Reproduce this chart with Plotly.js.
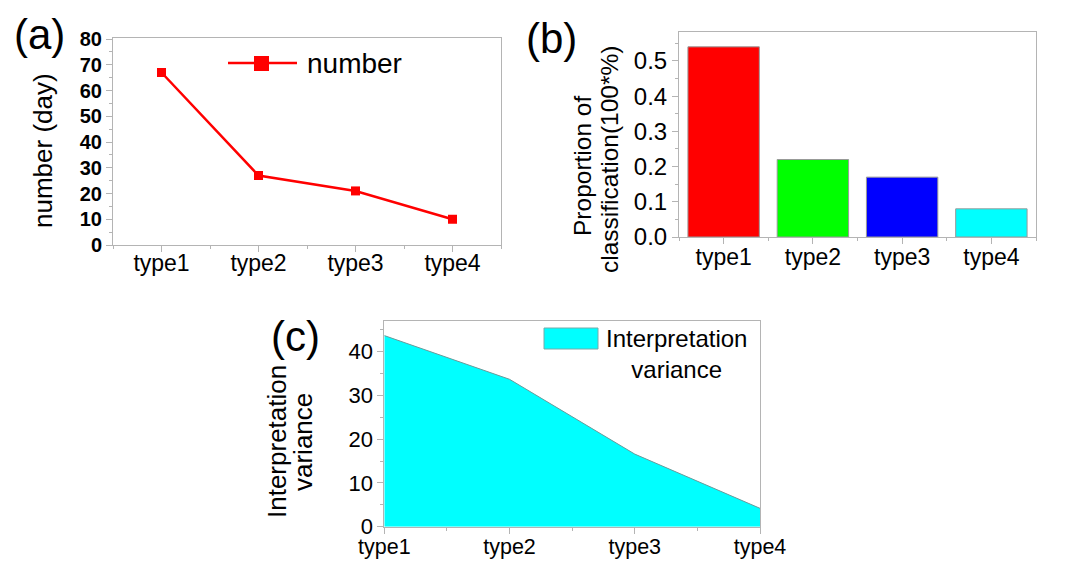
<!DOCTYPE html>
<html>
<head>
<meta charset="utf-8">
<script src="https://cdn.plot.ly/plotly-3.0.1.min.js"></script>
<style>html,body{margin:0;padding:0;background:#fff;}#chart{width:1087px;height:561px;}</style>
</head>
<body>
<div id="chart"></div>
<script>
// ---- data ----
var categories = ['type1', 'type2', 'type3', 'type4'];
var dayCounts = [67, 27, 21, 10];
var proportions = [0.54, 0.22, 0.17, 0.08];
var variances = [43.7, 33.7, 16.6, 4.2];
var barColors = ['#FF0000', '#00FF00', '#0000FF', '#00FFFF'];
var yTicksA = [0, 10, 20, 30, 40, 50, 60, 70, 80];
var yTicksB = [0.0, 0.1, 0.2, 0.3, 0.4, 0.5];
var yTicksC = [0, 10, 20, 30, 40];

var W = 1087, H = 561;
function px(x) { return x / W; }
function py(y) { return 1 - y / H; }
var idx = categories.map(function (c, i) { return i; });
var FONT = 'Arial, "Liberation Sans", sans-serif';
var AX = '#b4b4b4';

function xAxis(dom, rng, anchor, size, standoff) {
  return {
    domain: dom, range: rng, anchor: anchor,
    tickmode: 'array', tickvals: idx, ticktext: categories,
    ticks: 'outside', ticklen: 6, tickcolor: AX, tickwidth: 1,
    ticklabelstandoff: standoff,
    minor: { tickmode: 'linear', tick0: 0.5, dtick: 1, ticks: 'outside', ticklen: 3, tickcolor: AX },
    showline: true, linecolor: AX, linewidth: 1, mirror: true,
    showgrid: false, zeroline: false,
    tickfont: { family: FONT, size: size, color: '#000' },
    fixedrange: true
  };
}
function yAxis(dom, rng, anchor, ticks, minorStep, font, fmt) {
  return {
    domain: dom, range: rng, anchor: anchor,
    tickmode: 'array', tickvals: ticks, tickformat: fmt,
    ticks: 'outside', ticklen: 6, tickcolor: AX, tickwidth: 1,
    minor: { tickmode: 'linear', tick0: 0, dtick: minorStep, ticks: 'outside', ticklen: 3, tickcolor: AX },
    showline: true, linecolor: AX, linewidth: 1, mirror: true,
    showgrid: false, zeroline: false,
    tickfont: font,
    fixedrange: true
  };
}

var traces = [
  {
    type: 'scatter', mode: 'lines+markers', x: idx, y: dayCounts,
    xaxis: 'x', yaxis: 'y', name: 'number', showlegend: false,
    line: { color: '#FF0000', width: 2.5 },
    marker: { symbol: 'square', size: 9, color: '#FF0000' }
  },
  {
    type: 'bar', x: idx, y: proportions, width: 0.8,
    xaxis: 'x2', yaxis: 'y2', showlegend: false,
    marker: { color: barColors, line: { color: '#999', width: 1 } }
  },
  {
    type: 'scatter', mode: 'lines', x: idx, y: variances, fill: 'tozeroy',
    fillcolor: '#00FFFF', xaxis: 'x3', yaxis: 'y3', name: 'Interpretation variance',
    showlegend: false, line: { color: '#6a9a9a', width: 1 }
  }
];

var layout = {
  width: W, height: H, autosize: false,
  margin: { l: 0, r: 0, t: 0, b: 0, pad: 0 },
  paper_bgcolor: '#fff', plot_bgcolor: '#fff',
  font: { family: FONT, color: '#000' },
  showlegend: false,
  xaxis: xAxis([px(113), px(501)], [-0.5, 3.5], 'y', 23, -9),
  yaxis: yAxis([py(245), py(38)], [0, 80.4], 'x', yTicksA, 5,
    { family: FONT, size: 20, color: '#000', weight: 700 }, 'd'),
  xaxis2: xAxis([px(679), px(1036)], [-0.5, 3.5], 'y2', 23, -7),
  yaxis2: yAxis([py(237), py(31.7)], [0, 0.583], 'x2', yTicksB, 0.05,
    { family: FONT, size: 24, color: '#000' }, '.1f'),
  xaxis3: xAxis([px(384.3), px(760)], [0, 3], 'y3', 21.5, -6),
  yaxis3: yAxis([py(526.7), py(320.7)], [0, 47.1], 'x3', yTicksC, 5,
    { family: FONT, size: 22, color: '#000' }, 'd'),
  shapes: [
    // legend (a)
    { type: 'line', xref: 'paper', yref: 'paper', x0: px(228), x1: px(297), y0: py(63), y1: py(63),
      line: { color: '#FF0000', width: 2.5 } },
    { type: 'rect', xref: 'paper', yref: 'paper', x0: px(254), x1: px(269), y0: py(71), y1: py(56),
      fillcolor: '#FF0000', line: { color: '#FF0000', width: 0 } },
    // legend (c)
    { type: 'rect', xref: 'paper', yref: 'paper', x0: px(544), x1: px(598), y0: py(349), y1: py(328),
      fillcolor: '#00FFFF', line: { color: '#7aa', width: 1 } }
  ],
  annotations: [
    { text: '(a)', xref: 'paper', yref: 'paper', x: px(39), y: py(35), showarrow: false,
      xanchor: 'center', yanchor: 'middle', font: { size: 42, family: FONT } },
    { text: '(b)', xref: 'paper', yref: 'paper', x: px(551), y: py(38), showarrow: false,
      xanchor: 'center', yanchor: 'middle', font: { size: 42, family: FONT } },
    { text: '(c)', xref: 'paper', yref: 'paper', x: px(295), y: py(336), showarrow: false,
      xanchor: 'center', yanchor: 'middle', font: { size: 42, family: FONT } },
    { text: 'number (day)', xref: 'paper', yref: 'paper', x: px(43), y: py(151), textangle: -90,
      showarrow: false, xanchor: 'center', yanchor: 'middle', font: { size: 26, family: FONT } },
    { text: 'Proportion of', xref: 'paper', yref: 'paper', x: px(582), y: py(166), textangle: -90,
      showarrow: false, xanchor: 'center', yanchor: 'middle', font: { size: 24.5, family: FONT } },
    { text: 'classification(100*%)', xref: 'paper', yref: 'paper', x: px(610), y: py(160), textangle: -90,
      showarrow: false, xanchor: 'center', yanchor: 'middle', font: { size: 24.5, family: FONT } },
    { text: 'Interpretation', xref: 'paper', yref: 'paper', x: px(277), y: py(442), textangle: -90,
      showarrow: false, xanchor: 'center', yanchor: 'middle', font: { size: 26, family: FONT } },
    { text: 'variance', xref: 'paper', yref: 'paper', x: px(303), y: py(442), textangle: -90,
      showarrow: false, xanchor: 'center', yanchor: 'middle', font: { size: 26, family: FONT } },
    { text: 'number', xref: 'paper', yref: 'paper', x: px(305), y: py(64), showarrow: false,
      xanchor: 'left', yanchor: 'middle', font: { size: 28, family: FONT } },
    { text: 'Interpretation<br>variance', xref: 'paper', yref: 'paper', x: px(676), y: py(354), showarrow: false,
      xanchor: 'center', yanchor: 'middle', align: 'center', font: { size: 24, family: FONT } }
  ]
};

Plotly.newPlot('chart', traces, layout, { displayModeBar: false, staticPlot: true });
</script>
</body>
</html>
